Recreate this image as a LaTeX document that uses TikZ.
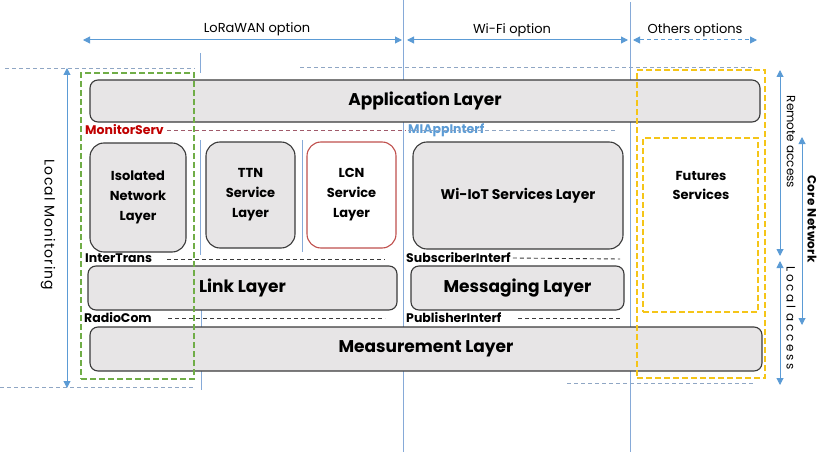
\documentclass[tikz,border=0pt]{standalone}
\usepackage{fontspec}
\setmainfont{Poppins}
\usetikzlibrary{arrows.meta}
\definecolor{boxfill}{HTML}{E7E5E6}
\definecolor{boxline}{HTML}{3A3A3A}
\definecolor{ablue}{HTML}{5B9BD5}
\definecolor{lblue}{HTML}{86AAD8}
\definecolor{gdash}{HTML}{8FA6C4}
\definecolor{grn}{HTML}{70AD47}
\definecolor{ylw}{HTML}{F5C518}
\definecolor{rd}{HTML}{C00000}
\definecolor{lcnred}{HTML}{C0504D}
\definecolor{mdash}{HTML}{A05A6A}
\begin{document}
\begin{tikzpicture}[x=1pt,y=-1pt,
  layer/.style={draw=boxline,fill=boxfill,rounded corners=8pt,line width=1.1pt,
    font=\bfseries\fontsize{17}{19}\selectfont,text=black},
  svc/.style={draw=boxline,fill=boxfill,rounded corners=14pt,line width=1.1pt,
    font=\bfseries\fontsize{13}{20}\selectfont,align=center},
  guide/.style={draw=gdash,line width=0.8pt,dash pattern=on 4pt off 3pt},
  vline/.style={draw=lblue,line width=0.9pt},
  iface/.style={draw=boxline,line width=0.9pt,dash pattern=on 4pt off 3pt},
  ifl/.style={font=\bfseries\fontsize{12.5}{14}\selectfont,anchor=west,inner sep=0pt},
  barrow/.style={draw=ablue,line width=1pt,{Triangle[length=7pt,width=7pt]}-{Triangle[length=7pt,width=7pt]}},
  toplbl/.style={font=\fontsize{13}{15}\selectfont,inner sep=0pt},
  sidelbl/.style={font=\fontsize{12}{14}\selectfont,inner sep=0pt,rotate=-90},
  gbox/.style={draw=grn,line width=1.8pt,dash pattern=on 6pt off 3pt},
  ybox/.style={draw=ylw,line width=2pt,dash pattern=on 6pt off 3pt}]
\useasboundingbox (0,0) rectangle (817,452);

% guides
\coordinate (g1a) at (5,68); \coordinate (g1b) at (195,68);
\coordinate (g2a) at (300,67); \coordinate (g2b) at (755,67);
\coordinate (g3a) at (0,387); \coordinate (g3b) at (193,387);
\coordinate (g4a) at (567,383); \coordinate (g4b) at (753,383);
\draw[guide] (g1a) -- (g1b);
\draw[guide] (g2a) -- (g2b);
\draw[guide] (g3a) -- (g3b);
\draw[guide] (g4a) -- (g4b);

% vertical lines
\coordinate (v1a) at (403,0); \coordinate (v1b) at (403,452);
\coordinate (v2a) at (630,2); \coordinate (v2b) at (630,452);
\draw[vline] (v1a) -- (v1b);
\draw[vline] (v2a) -- (v2b);
\coordinate (s1a) at (200,53); \coordinate (s1b) at (200,73);
\coordinate (s2a) at (200,140); \coordinate (s2b) at (200,255);
\coordinate (s3a) at (201,308); \coordinate (s3b) at (201,390);
\coordinate (s4a) at (302,140); \coordinate (s4b) at (302,252);
\draw[vline] (s1a) -- (s1b);
\draw[vline] (s2a) -- (s2b);
\draw[vline] (s3a) -- (s3b);
\draw[vline] (s4a) -- (s4b);

% top arrows
\coordinate (la) at (83,40); \coordinate (lb) at (402,40);
\coordinate (wa) at (407,40); \coordinate (wb) at (628,40);
\coordinate (oa) at (633,40); \coordinate (ob) at (757,40);
\draw[barrow] (la) -- (lb);
\draw[barrow] (wa) -- (wb);
\draw[barrow,dash pattern=on 4pt off 3pt] (oa) -- (ob);
\node[toplbl] (lora) at (257,29) {LoRaWAN option};
\node[toplbl] (wifi) at (512,30) {Wi-Fi option};
\node[toplbl] (oth) at (695,30) {Others options};

% left arrow
\coordinate (lma) at (67,68); \coordinate (lmb) at (67,388);
\draw[barrow] (lma) -- (lmb);
\node[sidelbl,font=\fontsize{14}{16}\selectfont\addfontfeatures{LetterSpace=8}] (locmon) at (48,225) {Local Monitoring};

% right arrows
\coordinate (ra) at (780,70); \coordinate (rb) at (780,256);
\coordinate (lca) at (780,261); \coordinate (lcb) at (780,385);
\coordinate (ca) at (802,137); \coordinate (cb) at (802,325);
\draw[barrow] (ra) -- (rb);
\draw[barrow] (lca) -- (lcb);
\draw[barrow] (ca) -- (cb);
\node[sidelbl] (remote) at (791,142) {Remote access};
\node[sidelbl,font=\fontsize{12}{14}\selectfont\addfontfeatures{LetterSpace=22}] (local) at (791,318) {Local access};
\node[sidelbl,font=\bfseries\fontsize{12}{14}\selectfont\addfontfeatures{LetterSpace=3}] (core) at (812,219) {Core Network};

% layers
\node[layer,minimum width=670pt,minimum height=42pt] (app) at (425,101) {Application Layer};
\node[layer,minimum width=309pt,minimum height=44pt] (link) at (242.5,288) {Link Layer};
\node[layer,minimum width=213pt,minimum height=44pt] (msg) at (517.5,288) {Messaging Layer};
\node[layer,minimum width=672pt,minimum height=44pt] (meas) at (426,349) {Measurement Layer};

% services
\node[svc,minimum width=96pt,minimum height=109pt] (iso) at (138,197.5) {Isolated\\Network\\Layer};
\node[svc,minimum width=89pt,minimum height=106pt] (ttn) at (250.5,195) {TTN\\Service\\Layer};
\node[svc,draw=lcnred,fill=white,minimum width=89pt,minimum height=106pt] (lcn) at (351.5,195) {LCN\\Service\\Layer};
\node[svc,font=\bfseries\fontsize{14}{20}\selectfont,minimum width=210pt,minimum height=107pt] (wiot) at (518,195.5) {Wi-IoT Services Layer};

% interfaces
\node[ifl,text=rd] (mon) at (85,130) {MonitorServ};
\node[ifl,text=ablue] (miapp) at (408,130) {MIAppInterf};
\coordinate (mone) at (405,130);
\coordinate (mie) at (615,130);
\draw[draw=mdash,line width=0.9pt,dash pattern=on 4pt off 3pt] (mon.east) ++(3,0) -- (mone);
\draw[draw=gdash,line width=0.9pt,dash pattern=on 4pt off 3pt] (miapp.west) -- (mie);

\node[ifl] (intr) at (85,258) {InterTrans};
\node[ifl] (sub) at (406,258) {SubscriberInterf};
\node[ifl] (radio) at (84,318) {RadioCom};
\node[ifl] (pub) at (406,318) {PublisherInterf};
\coordinate (intre) at (385,259); \coordinate (intrs) at (167,259);
\coordinate (sube) at (620,259);
\coordinate (radioe) at (385,318); \coordinate (radios) at (168,318);
\coordinate (pubs) at (518,318); \coordinate (pube) at (620,318);
\draw[iface] (intrs) -- (intre);
\draw[iface] (sub.east) ++(2,0) -- (sube);
\draw[iface] (radios) -- (radioe);
\draw[iface] (pubs) -- (pube);

% futures
\node[ybox,minimum width=115pt,minimum height=174pt] (futbox) at (700.5,225) {};
\node[font=\bfseries\fontsize{13}{19}\selectfont,align=center] (fut) at (701,185) {Futures\\Services};

% highlight boxes
\node[gbox,minimum width=113pt,minimum height=306pt] (green) at (137.5,226) {};
\node[ybox,minimum width=128pt,minimum height=308pt] (yellow) at (701,224) {};
\end{tikzpicture}
\end{document}
